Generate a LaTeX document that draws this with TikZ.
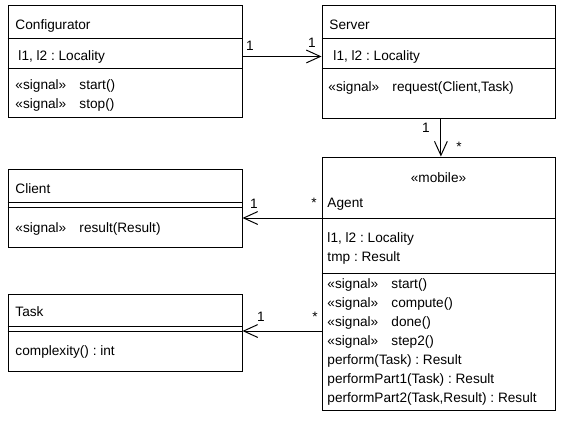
\documentclass[tikz,border=0pt]{standalone}
\usepackage{fontspec}
\setmainfont{Liberation Sans}
\usetikzlibrary{arrows.meta, fit, calc}
\frenchspacing

\newcommand{\umlfont}{\fontsize{9.7}{11}\selectfont}
\newcommand{\sgnl}[1]{\makebox[1.6cm][l]{«signal»}#1}

\begin{document}
\begin{tikzpicture}[x=0.025cm, y=-0.025cm, line width=0.7pt,
    classbox/.style={draw, inner sep=0pt},
    txt/.style={anchor=base west, inner sep=0pt, font=\umlfont},
    mult/.style={anchor=base, inner sep=0pt, font=\umlfont},
    assoc/.style={-{Straight Barb[length=0.35cm, width=0.32cm]}}]
        \useasboundingbox (0,0) rectangle (564,423);

        % the five classes
        \node[classbox, fit={(8,5) (242,117)}] (config) {};
        \node[classbox, fit={(322,5) (555,118)}] (server) {};
        \node[classbox, fit={(322,157) (555,410)}] (agent) {};
        \node[classbox, fit={(8,169) (242,247)}] (client) {};
        \node[classbox, fit={(8,294) (242,371)}] (task) {};

        % Configurator
        \draw (config.west |- 0,38) -- (config.east |- 0,38);
        \draw (config.west |- 0,68) -- (config.east |- 0,68);
        \node[txt] (cfg-name) at (15,29) {Configurator};
        \node[txt] (cfg-attr) at (18,60) {l1, l2 : Locality};
        \node[txt] (cfg-op1) at (15,89) {\sgnl{start()}};
        \node[txt] (cfg-op2) at (15,108) {\sgnl{stop()}};

        % Server
        \draw (server.west |- 0,38) -- (server.east |- 0,38);
        \draw (server.west |- 0,68) -- (server.east |- 0,68);
        \node[txt] (srv-name) at (329,29) {Server};
        \node[txt] (srv-attr) at (333,60) {l1, l2 : Locality};
        \node[txt] (srv-op) at (328,91) {\sgnl{request(Client,Task)}};

        % Agent
        \draw (agent.west |- 0,218) coordinate (agt-div) -- (agent.east |- 0,218);
        \draw (agent.west |- 0,273) -- (agent.east |- 0,273);
        \node[mult] (agt-stereo) at (agent.north |- 0,182) {«mobile»};
        \node[txt] (agt-name) at (327,207) {Agent};
        \node[txt] (agt-attr1) at (327,242) {l1, l2 : Locality};
        \node[txt] (agt-attr2) at (327,261) {tmp : Result};
        \foreach \op [count=\i from 0] in {start(), compute(), done(), step2()}
          \node[txt] (agt-op\i) at (327,{288+19*\i}) {\sgnl{\op}};
        \foreach \op [count=\i from 4] in {perform(Task) : Result, performPart1(Task) : Result, {performPart2(Task,Result) : Result}}
          \node[txt] (agt-op\i) at (327,{288+19*\i}) {\op};

        % Client
        \draw (client.west |- 0,202) -- (client.east |- 0,202);
        \draw (client.west |- 0,207) -- (client.east |- 0,207);
        \node[txt] (cli-name) at (15,193) {Client};
        \node[txt] (cli-op) at (15,232) {\sgnl{result(Result)}};

        % Task
        \draw (task.west |- 0,326) -- (task.east |- 0,326);
        \draw (task.west |- 0,331) -- (task.east |- 0,331) coordinate (tsk-div);
        \node[txt] (tsk-name) at (15,316) {Task};
        \node[txt] (tsk-op) at (15,355) {complexity() : int};

        % associations
        \coordinate (srv-out) at ([xshift=0.06cm]server.south);
        \draw[assoc] (config.east |- cfg-attr) -- (server.west |- cfg-attr);
        \draw[assoc] (srv-out) -- (srv-out |- agent.north);
        \draw[assoc] (agt-div) -- (client.east |- agt-div);
        \draw[assoc] (agent.west |- tsk-div) -- (tsk-div);

        % multiplicities
        \node[mult] (m-cfg) at (250,50) {1};
        \node[mult] (m-srv) at (312,47) {1};
        \node[mult] (m-srv2) at (426,132) {1};
        \node[mult] (m-agt) at (459,151) {*};
        \node[mult] (m-cli) at (254,208) {1};
        \node[mult] (m-agt2) at (314,207) {*};
        \node[mult] (m-tsk) at (261,321) {1};
        \node[mult] (m-agt3) at (315,321) {*};
      \end{tikzpicture}
\end{document}
